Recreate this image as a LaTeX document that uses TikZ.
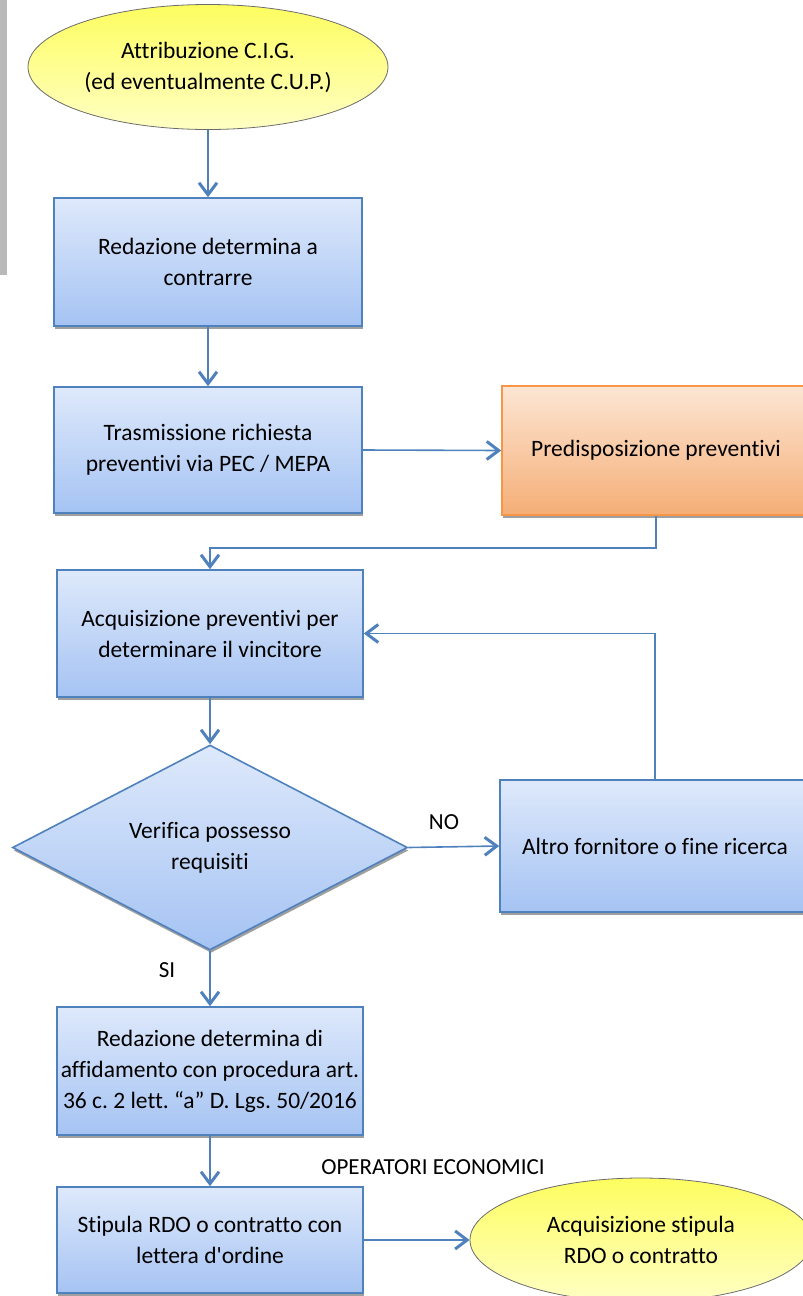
\documentclass[tikz,border=0pt]{standalone}
\usepackage{fontspec}
\setmainfont[Ligatures={NoCommon}]{Carlito}
\usetikzlibrary{arrows.meta,shapes.geometric,shadows}
\frenchspacing
\definecolor{bline}{HTML}{4F81BD}
\definecolor{btop}{HTML}{DEE9FB}
\definecolor{bbot}{HTML}{A5C3F3}
\definecolor{otop}{HTML}{FCE6D4}
\definecolor{obot}{HTML}{F5AE76}
\definecolor{oline}{HTML}{F79646}
\definecolor{ytop}{HTML}{FDFD60}
\definecolor{ybot}{HTML}{FFFFC4}
\tikzset{
  txt/.style={font=\fontsize{23.5}{31}\selectfont, align=center, text=black},
  shd/.style={drop shadow={shadow xshift=1pt, shadow yshift=-3pt, fill=gray!75, opacity=1}},
  bluebox/.style={txt, rectangle, draw=bline, line width=1.6pt, top color=btop, bottom color=bbot, shd, inner sep=0pt},
  orangebox/.style={txt, rectangle, draw=oline, line width=1.6pt, top color=otop, bottom color=obot, shd, inner sep=0pt},
  term/.style={txt, ellipse, draw=gray!85!black, line width=0.8pt, top color=ytop, bottom color=ybot, inner sep=0pt},
  decision/.style={txt, diamond, aspect=1.93, draw=bline, line width=1.6pt, top color=btop, bottom color=bbot, shd, inner sep=0pt},
  arr/.style={draw=bline, line width=1.6pt, -{Straight Barb[length=12pt,width=18pt,line width=3pt]}},
  lbl/.style={font=\fontsize{23}{28}\selectfont, text=black}
}
\begin{document}
\begin{tikzpicture}[x=1pt,y=-1pt]
\useasboundingbox (0,0) rectangle (803,1296);
\clip (0,0) rectangle (803,1296);
\fill[gray!55] (0,0) rectangle (7,275);
\node[term, minimum width=360pt, minimum height=125pt] (e1) at (208,67) {Attribuzione C.I.G.\\(ed eventualmente C.U.P.)};
\node[bluebox, minimum width=308pt, minimum height=128pt] (b1) at (208,262) {Redazione determina a\\contrarre};
\node[bluebox, minimum width=308pt, minimum height=126pt] (b2) at (208,450) {Trasmissione richiesta\\preventivi via PEC / MEPA};
\node[orangebox, minimum width=308pt, minimum height=129pt] (o1) at (656,450.5) {Predisposizione preventivi};
\node[bluebox, minimum width=306pt, minimum height=127pt] (b3) at (210,633.5) {Acquisizione preventivi per\\determinare il vincitore};
\node[decision, minimum width=395pt, minimum height=205pt] (d1) at (210,847.5) {Verifica possesso\\requisiti};
\node[bluebox, minimum width=310pt, minimum height=132pt] (a1) at (655,846) {Altro fornitore o fine ricerca};
\node[bluebox, minimum width=306pt, minimum height=128pt] (b4) at (210,1071) {Redazione determina di\\affidamento con procedura art.\\36 c. 2 lett. “a” D. Lgs. 50/2016};
\node[bluebox, minimum width=306pt, minimum height=106pt] (b5) at (210,1240) {Stipula RDO o contratto con\\lettera d\textquotesingle ordine};
\node[term, minimum width=342pt, minimum height=124pt] (e2) at (641,1240) {Acquisizione stipula\\RDO o contratto};
\node[lbl] (no) at (444,822) {NO};
\node[lbl] (si) at (167,970) {SI};
\node[lbl] (op) at (433,1167) {OPERATORI ECONOMICI};
\draw[arr] (e1.south) -- (b1.north);
\draw[arr] (b1.south) -- (b2.north);
\draw[arr] (b2.east) -- (o1.west);
\draw[arr] (o1.south) -- ++(0,32) -| (b3.north);
\draw[arr] (b3.south) -- (d1.north);
\draw[arr] (d1.east) -- (a1.west);
\draw[arr] (a1.north) |- (b3.east);
\draw[arr] (d1.south) -- (b4.north);
\draw[arr] (b4.south) -- (b5.north);
\draw[arr] (b5.east) -- (e2.west);
\end{tikzpicture}
\end{document}
